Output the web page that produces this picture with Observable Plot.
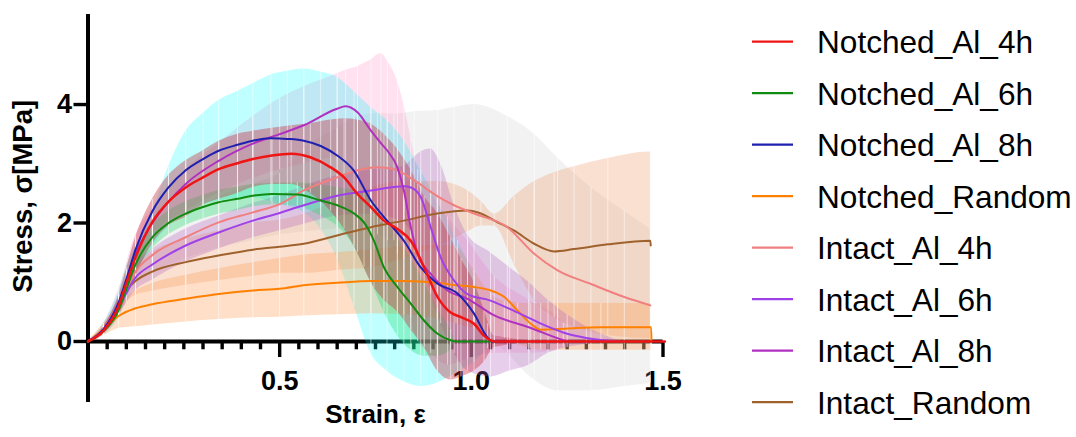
<!DOCTYPE html>
<html>
<head>
<meta charset="utf-8">
<script src="https://cdn.jsdelivr.net/npm/d3@7"></script>
<script src="https://cdn.jsdelivr.net/npm/@observablehq/plot@0.6"></script>
<style>
  html, body { margin: 0; padding: 0; background: #fff; }
  #wrap { position: relative; width: 1076px; height: 437px; overflow: hidden; }
  #legend { position: absolute; left: 0; top: 0; }
</style>
</head>
<body>
<div id="wrap"></div>
<script>
// Mean stress-strain curves with ±SD bands.

// Notched_Al_4h
const strainN4 = [0, 0.04, 0.08, 0.1, 0.124, 0.168, 0.21, 0.255, 0.3, 0.341, 0.39, 0.43, 0.48, 0.53, 0.58, 0.633, 0.668, 0.703, 0.738, 0.772, 0.807, 0.842, 0.877, 0.912, 0.946, 0.973, 1.007, 1.033, 1.06, 1.2, 1.35, 1.505];
const meanN4 = [0, 0.18, 0.6, 0.98, 1.42, 2.02, 2.36, 2.60, 2.77, 2.91, 3.01, 3.08, 3.14, 3.17, 3.11, 2.94, 2.77, 2.49, 2.27, 2.04, 1.90, 1.70, 1.25, 0.75, 0.49, 0.41, 0.30, 0.10, 0, 0, 0, 0];
const loN4 = [0, 0.12, 0.45, 0.75, 1.1, 1.65, 1.95, 2.1, 2.3, 2.4, 2.5, 2.6, 2.65, 2.65, 2.5, 2.2, 1.9, 1.5, 1.0, 0.7, 0.5, 0.2, -0.1, -0.5, -0.65, -0.6, -0.5, -0.35, -0.1, 0, 0, 0];
const hiN4 = [0, 0.24, 0.78, 1.22, 1.75, 2.4, 2.8, 3.05, 3.22, 3.38, 3.5, 3.55, 3.6, 3.64, 3.68, 3.74, 3.76, 3.74, 3.67, 3.5, 3.25, 2.9, 2.45, 2.16, 1.75, 1.4, 1.0, 0.55, 0.1, 0, 0, 0];

// Notched_Al_6h
const strainN6 = [0, 0.04, 0.08, 0.1, 0.124, 0.168, 0.21, 0.255, 0.3, 0.341, 0.39, 0.43, 0.48, 0.546, 0.607, 0.65, 0.694, 0.72, 0.746, 0.772, 0.807, 0.842, 0.877, 0.912, 0.946, 0.96, 1.0, 1.05];
const meanN6 = [0, 0.17, 0.53, 0.88, 1.3, 1.76, 2.0, 2.16, 2.27, 2.35, 2.41, 2.46, 2.49, 2.48, 2.38, 2.30, 2.16, 2.01, 1.70, 1.25, 0.92, 0.64, 0.35, 0.13, 0.02, 0, 0, 0];
const loN6 = [0, 0.14, 0.46, 0.78, 1.15, 1.56, 1.8, 1.96, 2.07, 2.15, 2.21, 2.27, 2.31, 2.28, 2.12, 1.95, 1.6, 1.25, 0.9, 0.5, 0.1, -0.15, -0.25, -0.25, -0.15, 0, 0, 0];
const hiN6 = [0, 0.2, 0.6, 0.98, 1.45, 1.96, 2.2, 2.36, 2.47, 2.55, 2.61, 2.65, 2.67, 2.68, 2.64, 2.6, 2.55, 2.5, 2.35, 2.1, 1.75, 1.4, 1.0, 0.55, 0.2, 0, 0, 0];

// Notched_Al_8h
const strainN8 = [0, 0.04, 0.08, 0.1, 0.124, 0.168, 0.21, 0.255, 0.3, 0.341, 0.39, 0.43, 0.477, 0.52, 0.563, 0.607, 0.65, 0.694, 0.738, 0.78, 0.824, 0.868, 0.911, 0.964, 1.007, 1.042, 1.055, 1.1];
const meanN8 = [0, 0.2, 0.66, 1.05, 1.55, 2.2, 2.6, 2.89, 3.08, 3.22, 3.32, 3.39, 3.43, 3.42, 3.39, 3.30, 3.14, 2.88, 2.38, 2.04, 1.70, 1.25, 0.98, 0.81, 0.47, 0.07, 0, 0];
const loN8 = [0, 0.1, 0.4, 0.7, 1.15, 1.6, 1.95, 2.15, 2.3, 2.37, 2.42, 2.43, 2.36, 2.28, 2.18, 1.9, 1.4, 0.6, -0.2, -0.5, -0.68, -0.76, -0.7, -0.52, -0.35, -0.12, 0, 0];
const hiN8 = [0, 0.3, 0.85, 1.25, 1.6, 2.2, 2.95, 3.55, 3.85, 4.07, 4.22, 4.35, 4.5, 4.56, 4.6, 4.55, 4.46, 4.22, 3.95, 3.73, 3.39, 2.89, 2.38, 1.7, 1.1, 0.3, 0, 0];

// Notched_Random
const strainNR = [0, 0.04, 0.08, 0.124, 0.168, 0.255, 0.341, 0.43, 0.5, 0.563, 0.65, 0.738, 0.824, 0.911, 0.96, 1.007, 1.051, 1.086, 1.121, 1.155, 1.181, 1.225, 1.338, 1.469, 1.47];
const meanNR = [0, 0.2, 0.43, 0.56, 0.63, 0.72, 0.80, 0.86, 0.89, 0.95, 0.99, 1.02, 1.02, 0.99, 0.95, 0.92, 0.86, 0.75, 0.52, 0.30, 0.20, 0.21, 0.24, 0.24, 0];
const loNR = [0, 0.1, 0.22, 0.25, 0.28, 0.33, 0.37, 0.4, 0.41, 0.43, 0.45, 0.47, 0.45, 0.38, 0.3, 0.22, 0.15, 0.05, -0.05, -0.12, -0.15, -0.15, -0.15, -0.15, -0.15];
const hiNR = [0, 0.3, 0.62, 0.85, 0.98, 1.12, 1.23, 1.33, 1.4, 1.46, 1.5, 1.55, 1.6, 1.62, 1.6, 1.2, 0.8, 0.68, 0.65, 0.64, 0.64, 0.64, 0.64, 0.64, 0.64];

// Intact_Al_4h
const strainI4 = [0, 0.04, 0.08, 0.124, 0.168, 0.255, 0.341, 0.43, 0.5, 0.563, 0.65, 0.703, 0.755, 0.798, 0.851, 0.912, 0.955, 1.007, 1.094, 1.164, 1.225, 1.312, 1.399, 1.467];
const meanI4 = [0, 0.2, 0.6, 1.18, 1.46, 1.76, 2.01, 2.18, 2.32, 2.55, 2.77, 2.89, 2.94, 2.91, 2.72, 2.45, 2.30, 2.16, 1.93, 1.48, 1.20, 0.97, 0.75, 0.61];
const loI4 = [0, 0.15, 0.45, 0.95, 1.16, 1.4, 1.58, 1.7, 1.8, 1.85, 1.9, 1.9, 1.8, 1.7, 1.5, 1.1, 0.75, 0.3, -0.2, -0.65, -0.83, -0.83, -0.76, -0.71];
const hiI4 = [0, 0.25, 0.78, 1.42, 1.76, 2.12, 2.44, 2.66, 2.84, 3.25, 3.6, 3.8, 3.85, 3.84, 3.88, 3.9, 3.95, 4.0, 3.8, 3.5, 3.1, 2.6, 2.2, 1.9];

// Intact_Al_6h
const strainI6 = [0, 0.04, 0.08, 0.124, 0.168, 0.255, 0.341, 0.43, 0.5, 0.563, 0.65, 0.738, 0.824, 0.842, 0.868, 0.894, 0.92, 0.955, 0.99, 1.05, 1.10, 1.15, 1.2, 1.25, 1.3, 1.39];
const meanI6 = [0, 0.2, 0.58, 1.08, 1.3, 1.62, 1.84, 2.04, 2.17, 2.30, 2.46, 2.55, 2.62, 2.60, 2.44, 1.93, 1.42, 1.03, 0.80, 0.69, 0.55, 0.40, 0.25, 0.13, 0.06, 0];
const loI6 = [0, 0.15, 0.45, 0.86, 1.04, 1.34, 1.56, 1.75, 1.87, 1.98, 2.12, 2.15, 2.0, 1.85, 1.4, 0.8, 0.3, -0.2, -0.5, -0.6, -0.5, -0.4, -0.2, -0.1, -0.05, 0];
const hiI6 = [0, 0.25, 0.72, 1.3, 1.56, 1.9, 2.12, 2.33, 2.47, 2.62, 2.8, 2.9, 2.95, 3.05, 3.2, 3.25, 3.0, 2.3, 1.8, 1.5, 1.25, 1.0, 0.7, 0.45, 0.25, 0];

// Intact_Al_8h
const strainI8 = [0, 0.04, 0.08, 0.124, 0.168, 0.255, 0.341, 0.43, 0.5, 0.563, 0.65, 0.672, 0.703, 0.738, 0.764, 0.781, 0.807, 0.824, 0.842, 0.86, 0.894, 0.938, 0.99, 1.06, 1.15, 1.24, 1.25];
const meanI8 = [0, 0.2, 0.64, 1.48, 2.0, 2.66, 3.05, 3.34, 3.50, 3.65, 3.93, 3.97, 3.87, 3.56, 3.35, 3.22, 2.94, 2.55, 1.93, 1.48, 1.14, 0.86, 0.72, 0.44, 0.24, 0.02, 0];
const loI8 = [0, 0.1, 0.4, 1.15, 1.75, 2.2, 2.5, 2.75, 2.9, 3.0, 3.1, 3.0, 2.7, 2.37, 2.0, 1.7, 1.48, 1.0, 0.4, 0.0, -0.2, -0.4, -0.3, -0.2, -0.2, -0.1, 0];
const hiI8 = [0, 0.3, 0.88, 1.8, 2.25, 2.9, 3.35, 3.8, 4.1, 4.3, 4.52, 4.58, 4.64, 4.75, 4.86, 4.74, 4.4, 4.0, 3.45, 2.9, 2.5, 2.1, 1.7, 1.1, 0.7, 0.3, 0];

// Intact_Random
const strainIR = [0, 0.04, 0.08, 0.1, 0.124, 0.168, 0.255, 0.341, 0.43, 0.5, 0.563, 0.65, 0.738, 0.824, 0.911, 0.99, 1.025, 1.06, 1.112, 1.164, 1.216, 1.268, 1.356, 1.467, 1.468];
const meanIR = [0, 0.2, 0.58, 0.86, 1.02, 1.18, 1.34, 1.45, 1.55, 1.60, 1.65, 1.79, 1.93, 2.04, 2.16, 2.21, 2.16, 2.04, 1.87, 1.65, 1.52, 1.56, 1.64, 1.70, 1.62];
const loIR = [0, 0.15, 0.44, 0.65, 0.78, 0.85, 0.95, 1.03, 1.1, 1.15, 1.15, 1.2, 1.25, 1.4, 1.6, 1.85, 1.95, 1.95, 1.3, 0.7, 0.4, 0.25, 0.1, 0.05, 0.05];
const hiIR = [0, 0.25, 0.72, 1.07, 1.26, 1.51, 1.73, 1.87, 2.0, 2.05, 2.15, 2.38, 2.6, 2.7, 2.7, 2.55, 2.37, 2.15, 2.45, 2.7, 2.85, 2.95, 3.09, 3.2, 3.2];

// Axis ticks
const yTicks = [0, 2, 4];
const xMajorTicks = [0.5, 1.0, 1.5];
const xMinorTicks = d3.range(1, 30).filter(i => i % 10 !== 0).map(i => i * 0.05);

// Series styling (legend order)
const series = [
  {name: "Notched_Al_4h", strain: strainN4, mean: meanN4, lo: loN4, hi: hiN4, line: "#f01414", band: "#c83040", op: 0.4, w: 2.5},
  {name: "Notched_Al_6h", strain: strainN6, mean: meanN6, lo: loN6, hi: hiN6, line: "#108c10", band: "#20e070", op: 0.35, w: 2},
  {name: "Notched_Al_8h", strain: strainN8, mean: meanN8, lo: loN8, hi: hiN8, line: "#2020b0", band: "#00ffff", op: 0.25, w: 2},
  {name: "Notched_Random", strain: strainNR, mean: meanNR, lo: loNR, hi: hiNR, line: "#ff8000", band: "#ff9a50", op: 0.32, w: 2},
  {name: "Intact_Al_4h", strain: strainI4, mean: meanI4, lo: loI4, hi: hiI4, line: "#f08080", band: "#bdbdbd", op: 0.2, w: 2},
  {name: "Intact_Al_6h", strain: strainI6, mean: meanI6, lo: loI6, hi: hiI6, line: "#a040e8", band: "#b060c0", op: 0.3, w: 2},
  {name: "Intact_Al_8h", strain: strainI8, mean: meanI8, lo: loI8, hi: hiI8, line: "#b030c0", band: "#ff8cc6", op: 0.26, w: 2},
  {name: "Intact_Random", strain: strainIR, mean: meanIR, lo: loIR, hi: hiIR, line: "#a0622d", band: "#f0a070", op: 0.32, w: 2}
];
const byName = new Map(series.map(s => [s.name, s]));
const rowsOf = s => s.strain.map((x, i) => ({x, mean: s.mean[i], lo: s.lo[i], hi: s.hi[i]}));

// Stacking order of the SD bands and of the mean lines
const bandOrder = ["Intact_Al_4h", "Intact_Al_8h", "Notched_Al_8h", "Intact_Random", "Notched_Random", "Intact_Al_6h", "Notched_Al_6h", "Notched_Al_4h"];
const lineOrder = ["Intact_Random", "Notched_Random", "Intact_Al_4h", "Intact_Al_6h", "Intact_Al_8h", "Notched_Al_6h", "Notched_Al_8h", "Notched_Al_4h"];

const font = "Liberation Sans, Arial, Helvetica, sans-serif";
const bold = {fontWeight: "bold", fill: "black", fontFamily: font};

const marks = [
  // y axis: spine, ticks and labels
  Plot.ruleX([0], {stroke: "black", strokeWidth: 4}),
  Plot.ruleY(yTicks, {x1: -14 / 383, x2: 0, y: d => d, stroke: "black", strokeWidth: 3.4}),
  Plot.text(yTicks, {x: 0, y: d => d, dx: -16, textAnchor: "end", text: d => String(d), fontSize: 27, ...bold}),
  // x axis drawn along zero stress
  Plot.ruleY([0], {x1: 0, x2: 1.5, stroke: "black", strokeWidth: 4}),
  Plot.ruleX(xMinorTicks, {x: d => d, y1: 0, y2: -0.14, stroke: "black", strokeWidth: 3.4}),
  Plot.ruleX(xMajorTicks, {x: d => d, y1: 0, y2: -0.27, stroke: "black", strokeWidth: 3.4}),
  Plot.text(xMajorTicks, {x: d => d, y: 0, dy: 40, text: d => d.toFixed(1), fontSize: 27, ...bold}),
  // axis titles
  Plot.text(["Strain, ε"], {frameAnchor: "bottom", dy: 20, fontSize: 26, ...bold}),
  Plot.text(["Stress, σ[MPa]"], {x: -0.168, y: 2.45, rotate: -90, fontSize: 27.5, ...bold})
];

// SD bands
for (const name of bandOrder) {
  const s = byName.get(name);
  marks.push(Plot.areaY(rowsOf(s), {x: "x", y1: "lo", y2: "hi", fill: s.band, fillOpacity: s.op, curve: "monotone-x"}));
}
// light seams through the bands at the sampled strains
for (const name of bandOrder) {
  const s = byName.get(name);
  marks.push(Plot.ruleX(rowsOf(s), {x: "x", y1: "lo", y2: "hi", stroke: "white", strokeOpacity: 0.55, strokeWidth: 1}));
}
// mean curves
for (const name of lineOrder) {
  const s = byName.get(name);
  marks.push(Plot.line(rowsOf(s), {x: "x", y: "mean", stroke: s.line, strokeWidth: s.w, curve: "monotone-x"}));
}

const chart = Plot.plot({
  width: 700,
  height: 437,
  marginLeft: 87.5,
  marginRight: 37.5,
  marginTop: 14,
  marginBottom: 35,
  x: {domain: [0, 1.5], axis: null},
  y: {domain: [-1.03, 5.52], axis: null},
  style: {fontFamily: font, background: "white", overflow: "visible", color: "black"},
  marks
});

const wrap = document.getElementById("wrap");
wrap.appendChild(chart);

// Legend on the right
const legend = d3.select(wrap).append("svg")
  .attr("id", "legend")
  .attr("width", 1076)
  .attr("height", 437)
  .style("font-family", font);
series.forEach((s, i) => {
  const cy = 41.7 + i * 51.5;
  legend.append("line")
    .attr("x1", 752).attr("x2", 793)
    .attr("y1", cy).attr("y2", cy)
    .attr("stroke", s.line).attr("stroke-width", 2.2);
  legend.append("text")
    .attr("x", 817).attr("y", cy)
    .attr("dy", "0.36em")
    .attr("font-size", 31.6)
    .attr("fill", "black")
    .text(s.name);
});
</script>
</body>
</html>
